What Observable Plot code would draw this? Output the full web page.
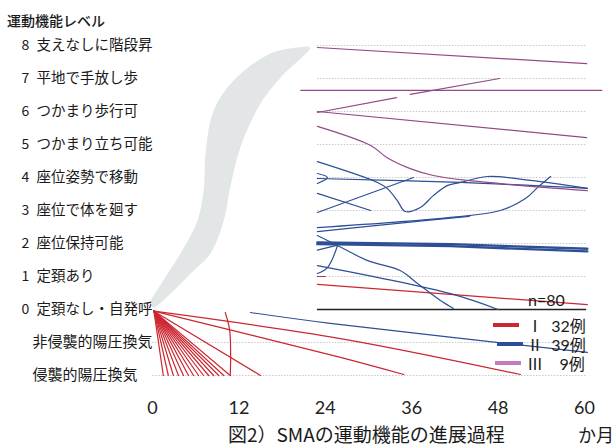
<!DOCTYPE html>
<html><head><meta charset="utf-8">
<script src="https://cdn.jsdelivr.net/npm/d3@7"></script>
<script src="https://cdn.jsdelivr.net/npm/@observablehq/plot@0.6"></script>
<style>
body{margin:0;background:#fff;overflow:hidden}
#wrap{position:relative;width:615px;height:446px;overflow:hidden;font-family:"Noto Sans CJK JP",sans-serif;background:#fff}
.ov{position:absolute;white-space:pre;color:#1a1a1a}
.sw{position:absolute}
</style></head><body><div id="wrap"></div>
<script>
// ---- data ----
const levels = [8,7,6,5,4,3,2,1,0];
const levelLabels = ["支えなしに階段昇","平地で手放し歩","つかまり歩行可","つかまり立ち可能","座位姿勢で移動","座位で体を廻す","座位保持可能","定頚あり","定頚なし・自発呼"];
const ventLevels = [-1,-2];
const ventLabels = ["非侵襲的陽圧換気","侵襲的陽圧換気"];
const monthTicks = [0,12,24,36,48,60];
const legendLabels = ["Ⅰ  32例","Ⅱ  39例","Ⅲ    9例"];
const totalN = "n=80";

// grey swoosh outline (month, level)
const swoosh = [[-0.3,0.18],[1.5,0.88],[3.9,1.7],[6.25,2.7],[7.1,3.6],[7.4,4.8],[8.5,6.03],[11.25,6.94],[16.4,7.76],[20.1,7.94],
  [21.9,7.94],[17.8,7.03],[15.0,6.24],[12.2,4.91],[10.8,3.7],[9.9,2.7],[8.05,1.7],[5.3,1.09],[2.5,0.48],[0.1,0.06]];

// type I (red) courses
const typeI = [
  [[22.9,1.0],[24.0,1.0]],
  [[22.9,0.76],[60.4,0.15]],
  [[0.2,-0.05],[26.1,-0.88],[51.1,-1.97]],
  [[0.2,-0.05],[26.1,-1.45],[34.9,-1.97]],
  [[0.2,-0.05],[15.0,-2]],
  [[10.1,-0.09],[10.7,-0.6],[10.85,-1.3],[10.8,-2]],
  [[0.2,-0.05],[1.5,-2]],
  [[0.2,-0.05],[2.2,-2]],
  [[0.2,-0.05],[2.9,-2]],
  [[0.2,-0.05],[3.6,-2]],
  [[0.2,-0.05],[4.3,-2]],
  [[0.2,-0.05],[5.0,-2]],
  [[0.2,-0.05],[5.7,-2]],
  [[0.2,-0.05],[6.4,-2]],
  [[0.2,-0.05],[7.1,-2]],
  [[0.2,-0.05],[7.8,-2]],
  [[0.2,-0.05],[8.5,-2]],
  [[0.2,-0.05],[9.2,-2]],
  [[0.2,-0.05],[9.9,-2]],
  [[0.2,-0.05],[10.8,-2]]
];
// type II (blue) courses
const typeII = [
  [[22.9,4.48],[31.25,3.85],[32.6,3.67],[34.0,3.30],[35.1,2.97],[37.2,3.09],[39.0,3.45],[41.0,3.76],[42.8,3.85],[46.5,4.03],[52.5,3.91],[60.4,3.67]],
  [[22.9,3.97],[42.8,3.85],[60.4,3.67]],
  [[22.9,4.12],[24.3,4.0],[22.9,3.82]],
  [[22.9,2.94],[36.25,4.0]],
  [[22.9,3.52],[30.3,3.0]],
  [[22.9,2.48],[41.4,2.79],[48.3,3.0],[51.8,3.36],[53.5,3.7],[55.3,4.03]],
  [[22.9,2.36],[34.4,2.62],[44.0,2.82]],
  [[22.9,2.03],[41.4,1.98],[60.4,1.84]],
  [[22.9,1.98],[41.4,1.92],[60.4,1.76]],
  [[22.9,1.80],[25.7,1.95]],
  [[22.9,1.09],[24.3,1.27],[25.7,1.94]],
  [[22.9,2.24],[25.7,1.94],[29.9,1.48],[34.4,1.18],[36.8,0.79],[40.0,0.27],[41.8,0.03]],
  [[22.9,1.33],[41.4,0.48],[48.0,0.0]],
  [[13.6,-0.09],[24.7,-0.42],[60.4,-1.3]]
];
// type III (purple) courses
const typeIII = [
  [[22.9,7.94],[60.3,7.45]],
  [[20.6,6.64],[62.4,6.64]],
  [[22.9,5.97],[33.9,6.42]],
  [[35.8,6.52],[48.2,7.0]],
  [[22.9,6.0],[60.3,5.21]],
  [[22.9,5.55],[30.3,4.97],[32.6,4.6],[35.8,4.27],[39.0,4.06],[43.75,3.91],[60.4,3.6]]
];

// ---- build ----
const C = {I:"#cc2630", II:"#2e4e96", III:"#934a87", IIIsw:"#c47cbd"};
function rows(list, tag){ const out=[]; list.forEach((s,i)=>s.forEach(([m,v])=>out.push({id:tag+i,m,v}))); return out; }
const rI = rows(typeI,"I"), rII = rows(typeII,"II"), rIII = rows(typeIII,"III");
const bandRows = rII.filter(d=>d.id==="II7"||d.id==="II8");
const rIIthin = rII.filter(d=>d.id!=="II7"&&d.id!=="II8");

const chart = Plot.plot({
  width:615, height:446,
  marginLeft:152, marginRight:31, marginTop:45, marginBottom:71,
  x:{domain:[0,60], axis:null},
  y:{domain:[-2,8], axis:null},
  style:{fontFamily:"'Noto Sans CJK JP', sans-serif", background:"white", color:"#1a1a1a"},
  marks:[
    Plot.line(swoosh, {x:d=>d[0], y:d=>d[1], fill:"#e3e6e6", stroke:"none", curve:"catmull-rom-closed"}),
    Plot.ruleY(levels.filter(l=>l>0), {x1:22.9, x2:60.2, stroke:"#c9c9c9", strokeWidth:1, strokeDasharray:"1.5,1.5"}),
    Plot.ruleY(ventLevels, {x1:0, x2:60.2, stroke:"#c9c9c9", strokeWidth:1, strokeDasharray:"1.5,1.5"}),
    Plot.ruleY([0], {x1:22.9, x2:60.3, stroke:"#222", strokeWidth:1.3}),
    Plot.line(rI, {x:"m", y:"v", z:"id", stroke:C.I, strokeWidth:1.2, curve:"catmull-rom"}),
    Plot.line(rIIthin, {x:"m", y:"v", z:"id", stroke:C.II, strokeWidth:1.2, curve:"catmull-rom"}),
    Plot.line(bandRows, {x:"m", y:"v", z:"id", stroke:C.II, strokeWidth:2.4}),
    Plot.line(rIII, {x:"m", y:"v", z:"id", stroke:C.III, strokeWidth:1.2, curve:"catmull-rom"}),
    Plot.text(levels, {y:d=>d, text:d=>String(d), frameAnchor:"left", dx:-127, textAnchor:"middle", fontSize:14, fill:"#1a1a1a"}),
    Plot.text(levels, {y:d=>d, text:(d,i)=>levelLabels[i], frameAnchor:"left", dx:-116, textAnchor:"start", fontSize:14.5, fill:"#1a1a1a"}),
    Plot.text(ventLevels, {y:d=>d, text:(d,i)=>ventLabels[i], frameAnchor:"left", dx:-120, textAnchor:"start", fontSize:15, fill:"#1a1a1a"}),
    Plot.axisX(monthTicks, {tickSize:0, tickPadding:26, fontSize:18, fontFamily:"Lato, sans-serif", fill:"#222", label:null})
  ]
});
const wrap = document.getElementById("wrap");
wrap.appendChild(chart);

function ov(html, css){ const d=document.createElement("div"); d.className="ov"; d.textContent=html; Object.assign(d.style, css); wrap.appendChild(d); return d; }
function sw(color, css){ const d=document.createElement("div"); d.className="sw"; d.style.background=color; Object.assign(d.style, css); wrap.appendChild(d); }

ov("運動機能レベル", {left:"7px", top:"11px", fontSize:"14px", lineHeight:"18px", fontWeight:"500"});
ov(totalN, {left:"528px", top:"291px", fontSize:"16px", lineHeight:"18px", fontFamily:"Lato, sans-serif"});
const legTop = [316, 335, 354];
const swCol = [C.I, C.II, C.IIIsw];
const swLeft = [493, 497, 495];
legendLabels.forEach((n,i)=>{
  sw(swCol[i], {left:swLeft[i]+"px", top:(legTop[i]+7)+"px", width:"26px", height:"4px"});
  ov(n, {left:"527px", top:legTop[i]+"px", fontSize:"16px", lineHeight:"20px", fontFamily:"Lato, 'Noto Sans CJK JP', sans-serif"});
});
ov("図2）SMAの運動機能の進展過程", {left:"228px", top:"424px", fontSize:"19px", lineHeight:"20px"});
ov("か月", {left:"578px", top:"424px", fontSize:"18px", lineHeight:"20px"});
</script>
</body></html>
